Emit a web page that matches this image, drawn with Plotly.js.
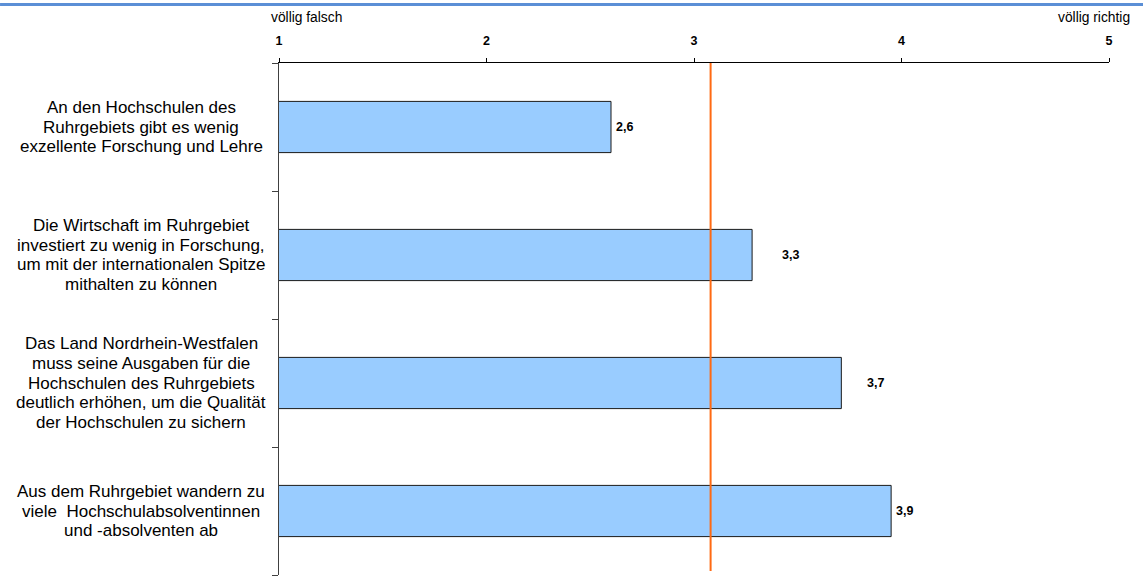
<!DOCTYPE html>
<html>
<head>
<meta charset="utf-8">
<script src="https://cdn.plot.ly/plotly-3.0.1.min.js"></script>
<style>html,body{margin:0;padding:0;background:#fff;}#chart{width:1143px;height:581px;}</style>
</head>
<body>
<div id="chart"></div>
<script>
// ---- data ----
const categories = [
  "An den Hochschulen des<br>Ruhrgebiets gibt es wenig<br>exzellente Forschung und Lehre",
  "Die Wirtschaft im Ruhrgebiet<br>investiert zu wenig in Forschung,<br>um mit der internationalen Spitze<br>mithalten zu können",
  "Das Land Nordrhein-Westfalen<br>muss seine Ausgaben für die<br>Hochschulen des Ruhrgebiets<br>deutlich erhöhen, um die Qualität<br>der Hochschulen zu sichern",
  "Aus dem Ruhrgebiet wandern zu<br>viele&nbsp; Hochschulabsolventinnen<br>und -absolventen ab"
];
const values = [2.6, 3.28, 3.71, 3.95];
const valueLabels = ["2,6", "3,3", "3,7", "3,9"];
const referenceValue = 3.08;
const tickValues = [1, 2, 3, 4, 5];
const tickLabels = ["1", "2", "3", "4", "5"];
const scaleLow = "völlig falsch";
const scaleHigh = "völlig richtig";

// ---- styles ----
const FONT = "Liberation Sans, Arial, sans-serif";
const labelShift = [3, 28, 24, 3];
const lineGap = 19.75;
const positions = categories.map((_, i) => i);

const trace = {
  type: "bar",
  orientation: "h",
  x: values,
  y: positions,
  width: 0.4,
  marker: { color: "#99ccff", line: { color: "#1a1a1a", width: 1 } },
  hoverinfo: "skip"
};

const annotations = [];
categories.forEach((c, i) => {
  const lines = c.split("<br>");
  const n = lines.length;
  lines.forEach((ln, k) => {
    annotations.push({
      xref: "paper", yref: "y", x: -0.1657, y: i, xanchor: "center", yanchor: "middle",
      yshift: ((n - 1) / 2 - k) * lineGap,
      text: ln, align: "center", showarrow: false,
      font: { family: FONT, size: 17, color: "#000" }
    });
  });
  annotations.push({
    xref: "x", yref: "y", x: values[i], y: i, xanchor: "left", yanchor: "middle",
    xshift: labelShift[i], text: valueLabels[i], showarrow: false,
    font: { family: FONT, size: 12.5, color: "#000", weight: "bold" }
  });
});
annotations.push({
  xref: "paper", yref: "paper", x: -0.012, y: 1.0898, xanchor: "left", yanchor: "middle",
  text: scaleLow, showarrow: false, font: { family: FONT, size: 13.8, color: "#000" }
});
annotations.push({
  xref: "paper", yref: "paper", x: 1.0277, y: 1.0898, xanchor: "right", yanchor: "middle",
  text: scaleHigh, showarrow: false, font: { family: FONT, size: 13.8, color: "#000" }
});

const layout = {
  width: 1143, height: 581,
  margin: { l: 279, r: 34, t: 63, b: 6 },
  paper_bgcolor: "#fff", plot_bgcolor: "#fff",
  showlegend: false,
  xaxis: {
    side: "top", range: [1, 5], tickvals: tickValues, ticktext: tickLabels,
    ticks: "outside", ticklen: 4, tickcolor: "#000", ticklabelstandoff: 8,
    tickfont: { family: FONT, size: 12.5, color: "#000", weight: "bold" },
    showline: true, linecolor: "#000", linewidth: 1,
    showgrid: false, zeroline: false, fixedrange: true
  },
  yaxis: {
    range: [3.5, -0.5], tickvals: [-0.5, 0.5, 1.5, 2.5, 3.5],
    showticklabels: false, ticks: "outside", ticklen: 6, tickcolor: "#404040",
    showline: true, linecolor: "#404040", linewidth: 1.5,
    showgrid: false, zeroline: false, fixedrange: true
  },
  shapes: [
    { type: "line", xref: "x", yref: "paper", x0: referenceValue, x1: referenceValue,
      y0: 0.008, y1: 1, line: { color: "#ff6a13", width: 2 } },
    { type: "line", xref: "paper", yref: "paper", x0: -0.3361, x1: 1.041,
      y0: 1.1143, y1: 1.1143, line: { color: "#5b8fd6", width: 3 } }
  ],
  annotations: annotations
};

Plotly.newPlot("chart", [trace], layout, { displayModeBar: false, staticPlot: true });
</script>
</body>
</html>
